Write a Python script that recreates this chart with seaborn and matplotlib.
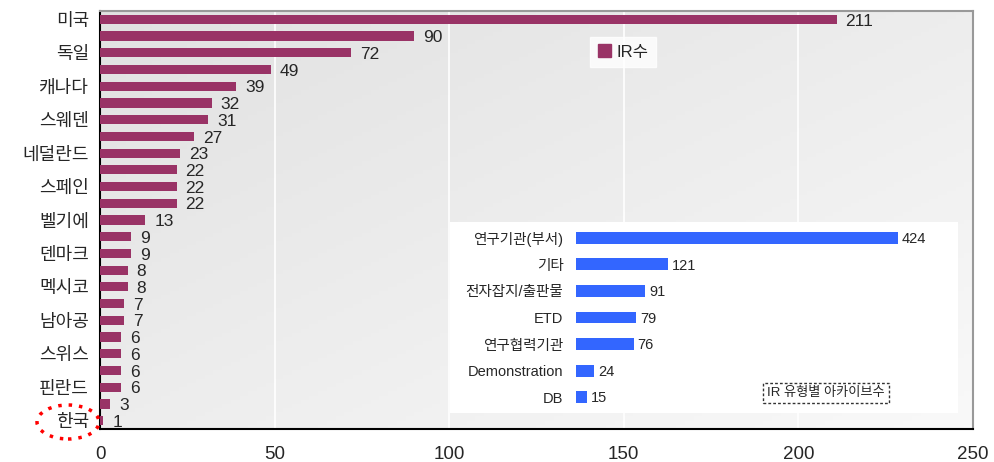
import numpy as np
import pandas as pd
import matplotlib
matplotlib.use('Agg')
import matplotlib.pyplot as plt
from matplotlib.patches import Ellipse, Rectangle, Patch
from matplotlib.colors import LinearSegmentedColormap
import seaborn as sns

# main chart: IR count by country (only every other label is printed)
country_labels = ['미국', '', '독일', '', '캐나다', '', '스웨덴', '', '네덜란드', '',
                  '스페인', '', '벨기에', '', '덴마크', '', '멕시코', '', '남아공', '',
                  '스위스', '', '핀란드', '', '한국']
ir_counts = [211, 90, 72, 49, 39, 32, 31, 27, 23, 22, 22, 22, 13,
             9, 9, 8, 8, 7, 7, 6, 6, 6, 6, 3, 1]
x_ticks = [0, 50, 100, 150, 200, 250]

# inset: archives by IR type
ir_types = ['연구기관(부서)', '기타', '전자잡지/출판물', 'ETD', '연구협력기관', 'Demonstration', 'DB']
type_counts = [424, 121, 91, 79, 76, 24, 15]

sns.set_style('white')
plt.rcParams['font.family'] = ['Liberation Sans', 'Noto Sans CJK KR', 'DejaVu Sans']

W, H = 995, 462
fig = plt.figure(figsize=(W / 100, H / 100), dpi=100)


def px_box(x0, y0, x1, y1):
    # pixel box (top-left origin) -> figure fraction [left, bottom, width, height]
    return [x0 / W, 1 - y1 / H, (x1 - x0) / W, (y1 - y0) / H]


ax = fig.add_axes(px_box(100, 11, 973, 429))

# light diagonal gradient background
bg_cmap = LinearSegmentedColormap.from_list('bg', ['#e1e1e1', '#f9f9f9'])
grad = np.add.outer(np.linspace(0, 1, 100), np.linspace(0, 1, 100)) / 2
ax.imshow(grad, cmap=bg_cmap, vmin=0, vmax=1, extent=[0, 250, 24.5, -0.5],
          aspect='auto', zorder=0)

df = pd.DataFrame({'pos': list(range(len(ir_counts))), 'count': ir_counts})
sns.barplot(data=df, x='count', y='pos', orient='h', color='#993366', saturation=1,
            width=0.55, linewidth=0, edgecolor='none', ax=ax, zorder=3)

for xv in x_ticks[1:-1]:
    ax.axvline(xv, color='white', lw=1.2, zorder=1)

ax.set_xlim(0, 250)
ax.set_ylim(24.5, -0.5)
ax.set_xticks(x_ticks)
ax.set_xticklabels([str(v) for v in x_ticks], fontsize=13.5)
ax.set_yticks(range(len(country_labels)))
ax.set_yticklabels(country_labels, fontsize=13)
ax.set_xlabel('')
ax.set_ylabel('')
ax.tick_params(axis='y', which='major', length=0, pad=8)
ax.tick_params(axis='x', length=4, direction='in', pad=12)
ax.set_yticks(np.arange(-0.5, 24.6, 1), minor=True)
ax.tick_params(axis='y', which='minor', length=5, direction='in', width=1, color='#333333')
for side in ['left', 'bottom']:
    ax.spines[side].set_color('black')
    ax.spines[side].set_linewidth(1.5)
for side in ['top', 'right']:
    ax.spines[side].set_color('#999999')
    ax.spines[side].set_linewidth(1.5)

for i, v in enumerate(ir_counts):
    ax.text(v + 2.5, i + 0.1, str(v), va='center', ha='left', fontsize=12.5, zorder=4)

leg = ax.legend(handles=[Patch(color='#993366', label='IR수')], loc='center',
                bbox_to_anchor=((623 - 100) / 873, 1 - (52 - 11) / 418),
                frameon=True, fontsize=12, handlelength=0.8, handleheight=0.8,
                handletextpad=0.3, borderpad=0.45, fancybox=False)
leg.get_frame().set_edgecolor('white')
leg.get_frame().set_facecolor('white')

# inset panel
fig.patches.append(Rectangle((450 / W, 1 - 413 / H), (958 - 450) / W, (413 - 222) / H,
                             transform=fig.transFigure, facecolor='white',
                             edgecolor='none', zorder=2))
ax2 = fig.add_axes(px_box(576, 222, 958, 413))
ax2.set_zorder(3)
ax2.patch.set_alpha(0)
sns.barplot(x=type_counts, y=ir_types, orient='h', color='#3366FF', saturation=1,
            width=0.45, linewidth=0, edgecolor='none', ax=ax2)
ax2.set_xlim(0, 503)
ax2.set_ylim(6.6, -0.6)
ax2.set_xticks([])
ax2.tick_params(axis='y', length=0, pad=9, labelsize=10.5)
ax2.set_xlabel('')
ax2.set_ylabel('')
for s in ax2.spines.values():
    s.set_visible(False)
for i, v in enumerate(type_counts):
    ax2.text(v + 5, i + 0.05, str(v), va='center', ha='left', fontsize=10.5)

fig.text(826 / W, 1 - 393 / H, 'IR 유형별 아카이브수', ha='center', va='center', fontsize=9.5,
         bbox=dict(boxstyle='square,pad=0.3', facecolor='white', edgecolor='#333333',
                   linestyle=(0, (2, 1.5)), linewidth=1), zorder=5)

# red dotted circle around 한국
fig.patches.append(Ellipse((68 / W, 1 - 422 / H), 62 / W, 34 / H, transform=fig.transFigure,
                           fill=False, edgecolor='red', linestyle=(0, (1, 2)), linewidth=2.5))

fig.savefig('out.png', dpi=100)
